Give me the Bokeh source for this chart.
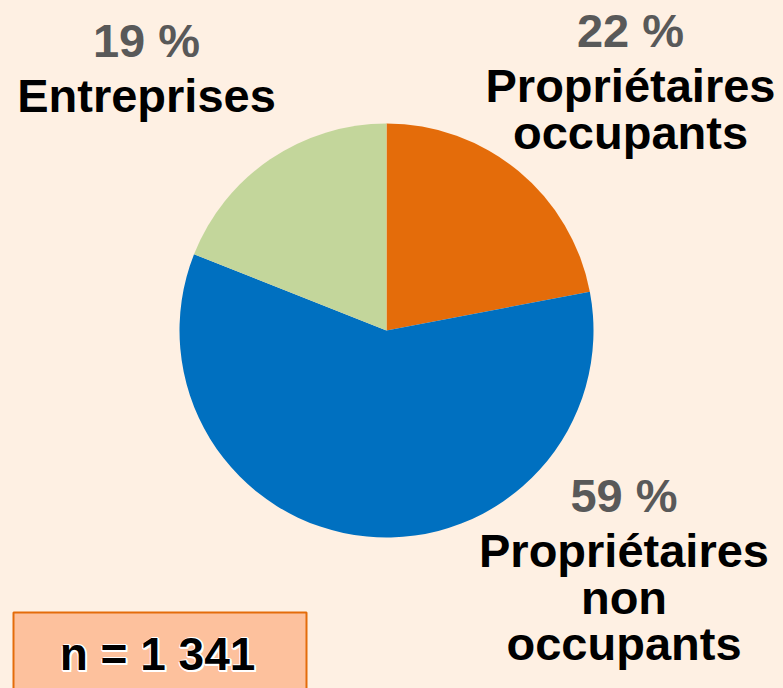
from bokeh.plotting import figure
from bokeh.models import Range1d
from bokeh.core.properties import value
from bokeh.embed import file_html
from bokeh.resources import INLINE
import math

# ---- data ----
categories = ["Propriétaires occupants", "Propriétaires non occupants", "Entreprises"]
shares = [22, 59, 19]
colors = ["#E46C0A", "#0070C0", "#C3D69B"]
pct_labels = ["22 %", "59 %", "19 %"]
name_lines = [["Propriétaires", "occupants"], ["Propriétaires", "non", "occupants"], ["Entreprises"]]
sample_label = "n = 1 341"

BG = "#FEF0E3"
W, H = 783, 688

p = figure(width=W, height=H, output_backend="svg", toolbar_location=None,
           x_range=Range1d(0, W), y_range=Range1d(0, H), min_border=0)
p.axis.visible = False
p.grid.visible = False
p.outline_line_color = None
p.background_fill_color = BG
p.border_fill_color = BG

def X(px):  # reference pixel -> data
    return px
def Y(py):
    return H - py

TOFF = 17  # text baseline correction

cx, cy, r = X(386), Y(330), 207
total = sum(shares)
start = math.pi / 2
starts, ends = [], []
for s in shares:
    a = 2 * math.pi * s / total
    starts.append(start)
    ends.append(start - a)
    start -= a
p.wedge(x=[cx] * 3, y=[cy] * 3, radius=r, start_angle=starts, end_angle=ends,
        direction="clock", fill_color=colors, line_color=None)

FONT = value("Liberation Sans")
FS = "47px"

# label anchors: (center x, baseline of percent line)
anchors = [(630, 46.7), (623.5, 511.5), (146, 56.5)]
for (ax, ay), pct, lines in zip(anchors, pct_labels, name_lines):
    p.text(x=[X(ax)], y=[Y(ay - TOFF)], text=[pct], text_font=FONT, text_font_size=FS,
           text_font_style="bold", text_color="#595959", text_align="center",
           text_baseline="alphabetic")
    for i, ln in enumerate(lines):
        by = ay + 55.5 + i * 46.5
        p.text(x=[X(ax)], y=[Y(by - TOFF)], text=[ln], text_font=FONT, text_font_size=FS,
               text_font_style="bold", text_color="black", text_align="center",
               text_baseline="alphabetic")

# sample-size box
p.quad(left=[X(13)], right=[X(306)], top=[Y(612)], bottom=[-30],
       fill_color="#FDC19D", line_color="#E46C0A", line_width=2)
bx, bb = X(157), Y(670 - TOFF)
for dx, dy in [(2, -2), (1.5, -1), (1, -2), (2, 0), (0, -2), (-1, -1), (1, 1)]:
    p.text(x=[bx + dx], y=[bb + dy], text=[sample_label], text_font=FONT, text_font_size="46px",
           text_font_style="bold", text_color="white", text_align="center",
           text_baseline="alphabetic")
p.text(x=[bx], y=[bb], text=[sample_label], text_font=FONT, text_font_size="46px",
       text_font_style="bold", text_color="black", text_align="center",
       text_baseline="alphabetic")

html = file_html(p, INLINE)
html = html.replace("</head>", "<style>body{background:%s;}</style></head>" % BG, 1)
open("out.html", "w").write(html)
